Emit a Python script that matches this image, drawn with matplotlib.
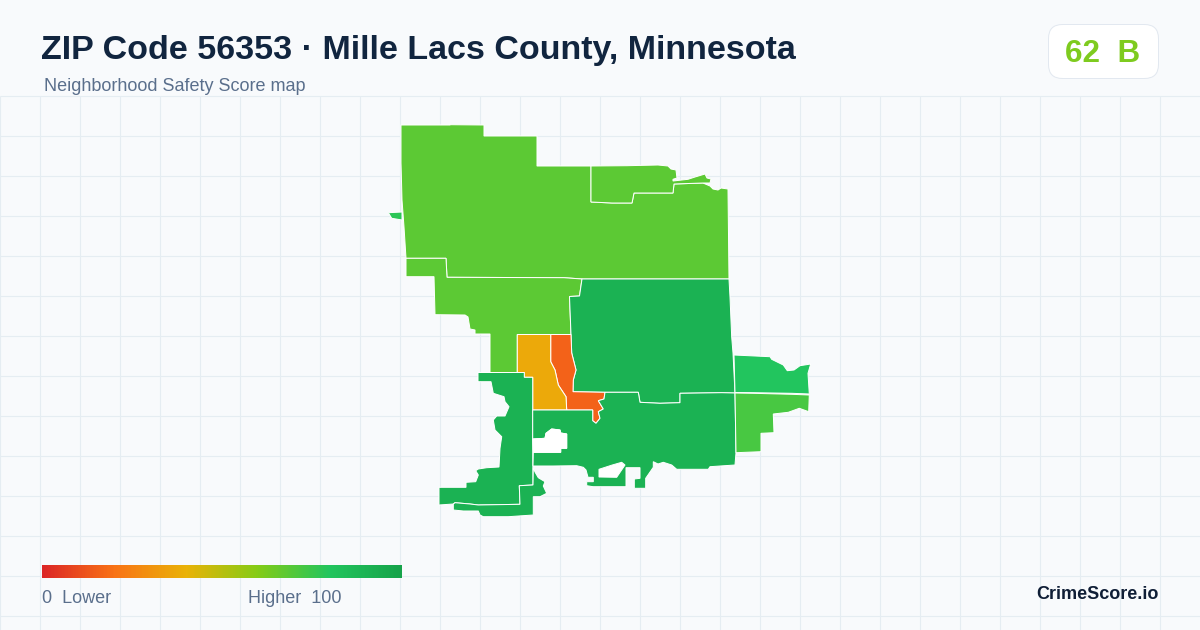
import matplotlib
matplotlib.use("Agg")
import numpy as np
import matplotlib.pyplot as plt
from matplotlib.colors import LinearSegmentedColormap, Normalize
from matplotlib.patches import FancyBboxPatch, PathPatch, Polygon
from matplotlib.path import Path

plt.rcParams['font.family'] = ['Liberation Sans', 'DejaVu Sans']

# textos
title = "ZIP Code 56353 · Mille Lacs County, Minnesota"
subtitle = "Neighborhood Safety Score map"
badge = "62  B"
brand = "CrimeScore.io"

# escala de color
stops = [0, 0.2, 0.4, 0.6, 0.8, 1]
stop_colors = ["#dc2626", "#f97316", "#eab308", "#84cc16", "#22c55e", "#16a34a"]

# contornos de los barrios
north_big = [(401,125),(450,125),(450,124.7),(484,125),(484,136),(537,136),(537,166),(591,166),
    (591,202),(612,203),(632,203),(634,193),(673,193),(674,184),(703,183),(710,186),(713,189),
    (718,190),(721,188),(728,189),(729,279),(582,279),(564,277.7),(447,277.3),(446,258.3),
    (406,258.3),(404,227),(402,200),(401,163),(401,143)]
north_east = [(591,166),(627,165.7),(658,165),(668,166),(671,169),(676,170),(677,178),(673,179.3),
    (673,181),(688,179.3),(695,177),(705,174),(707,178),(711,179),(710,183),(703,183),(674,184),
    (673,193),(634,193),(632,203),(612,203),(591,202)]
north_south = [(406,258.3),(446,258.3),(447,277.3),(564,277.7),(582,279),(579.5,296),(569.5,296.5),
    (571,334.5),(517.3,334.5),(517.3,372.5),(490,372.5),(490,334),(475,334),(475,330),(470,329),
    (468,317),(465,315),(435,314.7),(434,276.7),(406,276.7)]
center_east = [(582,279),(729,279),(730,297),(731.7,337),(733,353),(735,393),(721.7,392.7),(680,393.3),
    (680,402.7),(660,403.3),(640,402.3),(638.3,392.3),(605,392.3),(573,391.7),(573.3,380),(576,370),
    (571.7,353),(571,334.5),(569.5,296.5),(579.5,296)]
red_strip = [(550.7,334.5),(571,334.5),(571.7,353),(576,370),(573.3,380),(573,391.7),(605,392.3),
    (604,399),(598.3,400.7),(603.3,409),(598.3,411.7),(600,418.3),(596,423.3),(592.7,420.7),
    (592.7,410),(566.7,410),(566,396.7),(558.3,385),(555,370),(550.7,361.7)]
orange_strip = [(517.3,334.5),(550.7,334.5),(550.7,361.7),(555,370),(558.3,385),(566,396.7),(566.7,410),
    (532.7,410),(532.7,377.3),(524.3,377.3),(524.3,372.5),(517.3,372.5)]
west_shore = [(478,372.5),(524.3,372.5),(524.3,377.3),(532.7,377.3),(532.7,410),(532.7,439),(533,485),
    (519.3,485.7),(520,504.3),(478.3,505),(470,504),(455,502.7),(453.3,504),(439,505),(439,487.3),
    (466,487.3),(466,482.3),(475.7,481.7),(478.3,475),(475.7,470.7),(478.3,469),(486.7,467.7),
    (499,467),(500,448.3),(501.7,436.7),(495,430),(493.3,420),(496.7,416),(505,416),(509,406.7),
    (505,401.7),(504,396.7),(493.3,393.3),(491,381.7),(478,381.7)]
south_tip = [(519.3,485.7),(533,485),(533.3,467.5),(535,472),(538.3,477.7),(545,481.7),(543.3,486),
    (546.7,493.3),(540,496.7),(533.3,496.7),(533.3,515),(508.3,516.7),(483.3,516.7),(480,515),
    (478.3,511),(463.3,511),(453.3,510),(453.3,504),(455,502.7),(470,504),(478.3,505),(520,504.3)]
south_main = [(532.7,410),(592.7,410),(592.7,420.7),(596,423.3),(600,418.3),(598.3,411.7),(603.3,409),
    (598.3,400.7),(604,399),(605,392.3),(638.3,392.3),(640,402.3),(660,403.3),(680,402.7),(680,393.3),
    (721.7,392.7),(735,393),(736,452.7),(735,465),(710,466.7),(708.3,469.3),(676.7,469.3),(671.7,465),
    (663.3,462.3),(658,464),(653.3,461.7),(653.3,467.3),(645.7,478.3),(645.7,488.3),(634.3,488.3),
    (634.3,479),(640,478.3),(640,467.7),(626,467.7),(626,486.7),(593,486.7),(586.7,485.7),(586.7,481.7),
    (593.3,481.7),(593.3,477.3),(588,477.3),(586,470),(583.3,467.3),(576.7,465.7),(553.3,466),
    (533,466),(533.3,452.3),(560.7,452.3),(560.7,448.3),(566.7,448.3),(566.7,434),(560.7,433),(560,430),
    (551.7,429),(546,433.3),(545,438.3),(532.7,439)]
# lagunas, blancas en la imagen
lagoon_east = [(599,469.3),(612.3,465),(621.7,462.3),(625,465),(616.7,477.3),(599,477)]
lagoon_west = [(533.3,452.3),(560.7,452.3),(560.7,448.3),(566.7,448.3),(566.7,434),(560.7,433),(560,430),
    (551.7,429),(546,433.3),(545,438.3),(532.7,439)]
east_top = [(734,355),(770,356.7),(771.7,359.3),(783.3,365),(787.3,370.7),(794,370),(800,365.7),
    (810.7,364),(808,373.3),(809.3,394),(791.7,393.3),(753.3,392.7),(735,392.5)]
east_low = [(735,393),(753.3,393.3),(791.7,394.3),(809.3,395),(808.7,411.7),(799.3,408.3),(788.3,412.3),
    (773.3,414),(774,432.7),(761,433.3),(761,451.7),(736,452.7)]
islet = [(388.3,212.7),(402,212),(402,220),(391.7,218.3)]

# puntaje de cada barrio
zones = [north_big, north_east, north_south, center_east, red_strip, orange_strip,
         west_shore, south_tip, south_main, east_top, east_low, islet]
zone_scores = [68, 68, 68, 91, 16, 37, 91, 91, 91, 80, 72, 78]

cmap = LinearSegmentedColormap.from_list("score", list(zip(stops, stop_colors)))
norm = Normalize(0, 100)

fig = plt.figure(figsize=(12, 6.3), dpi=100, facecolor="#f8fafc")
ax = fig.add_axes([0, 0, 1, 1])
ax.set_xlim(0, 1200)
ax.set_ylim(630, 0)
ax.axis("off")

# cuadricula de fondo
ax.hlines(np.arange(96, 630, 40), 0, 1200, color="#e5edf2", lw=0.8, zorder=1)
ax.vlines(np.arange(0, 1200, 40), 96, 630, color="#e5edf2", lw=0.8, zorder=1)

for pts, score in zip(zones, zone_scores):
    ax.add_patch(Polygon(pts, closed=True, facecolor=cmap(norm(score)), edgecolor="white", lw=0.72, zorder=2))

for pts in [lagoon_east, lagoon_west]:
    ax.add_patch(Polygon(pts, closed=True, facecolor="white", edgecolor="white", lw=0.72, zorder=2.5))

# encabezado
ax.text(41, 59, title, fontsize=24.5, fontweight="bold", color="#11253f", va="baseline", zorder=5)
ax.text(44, 91, subtitle, fontsize=12.96, color="#5a6f8c", va="baseline", zorder=5)

ax.add_patch(FancyBboxPatch((1062.5, 38.5), 82, 26, boxstyle="round,pad=14,rounding_size=14",
                            facecolor="white", edgecolor="#e2e8f0", lw=0.72, zorder=4))
ax.text(1103, 62, badge, fontsize=22.6, fontweight="bold", color="#7ecb1f", ha="center", va="baseline", zorder=5)

# leyenda
gradient = np.linspace(0, 1, 360).reshape(1, -1)
ax.imshow(gradient, cmap=cmap, extent=(42, 402, 578, 565), aspect="auto", zorder=3)
ax.set_xlim(0, 1200)
ax.set_ylim(630, 0)
ax.text(42, 603, "0  Lower", fontsize=12.96, color="#5a6f8c", va="baseline", zorder=5)
ax.text(341.5, 603, "Higher  100", fontsize=12.96, color="#5a6f8c", ha="right", va="baseline", zorder=5)
ax.text(1158.5, 599, brand, fontsize=13, fontweight="bold", color="#0f1e36", ha="right", va="baseline", zorder=5)

fig.savefig("out.png", dpi=100, facecolor=fig.get_facecolor())
